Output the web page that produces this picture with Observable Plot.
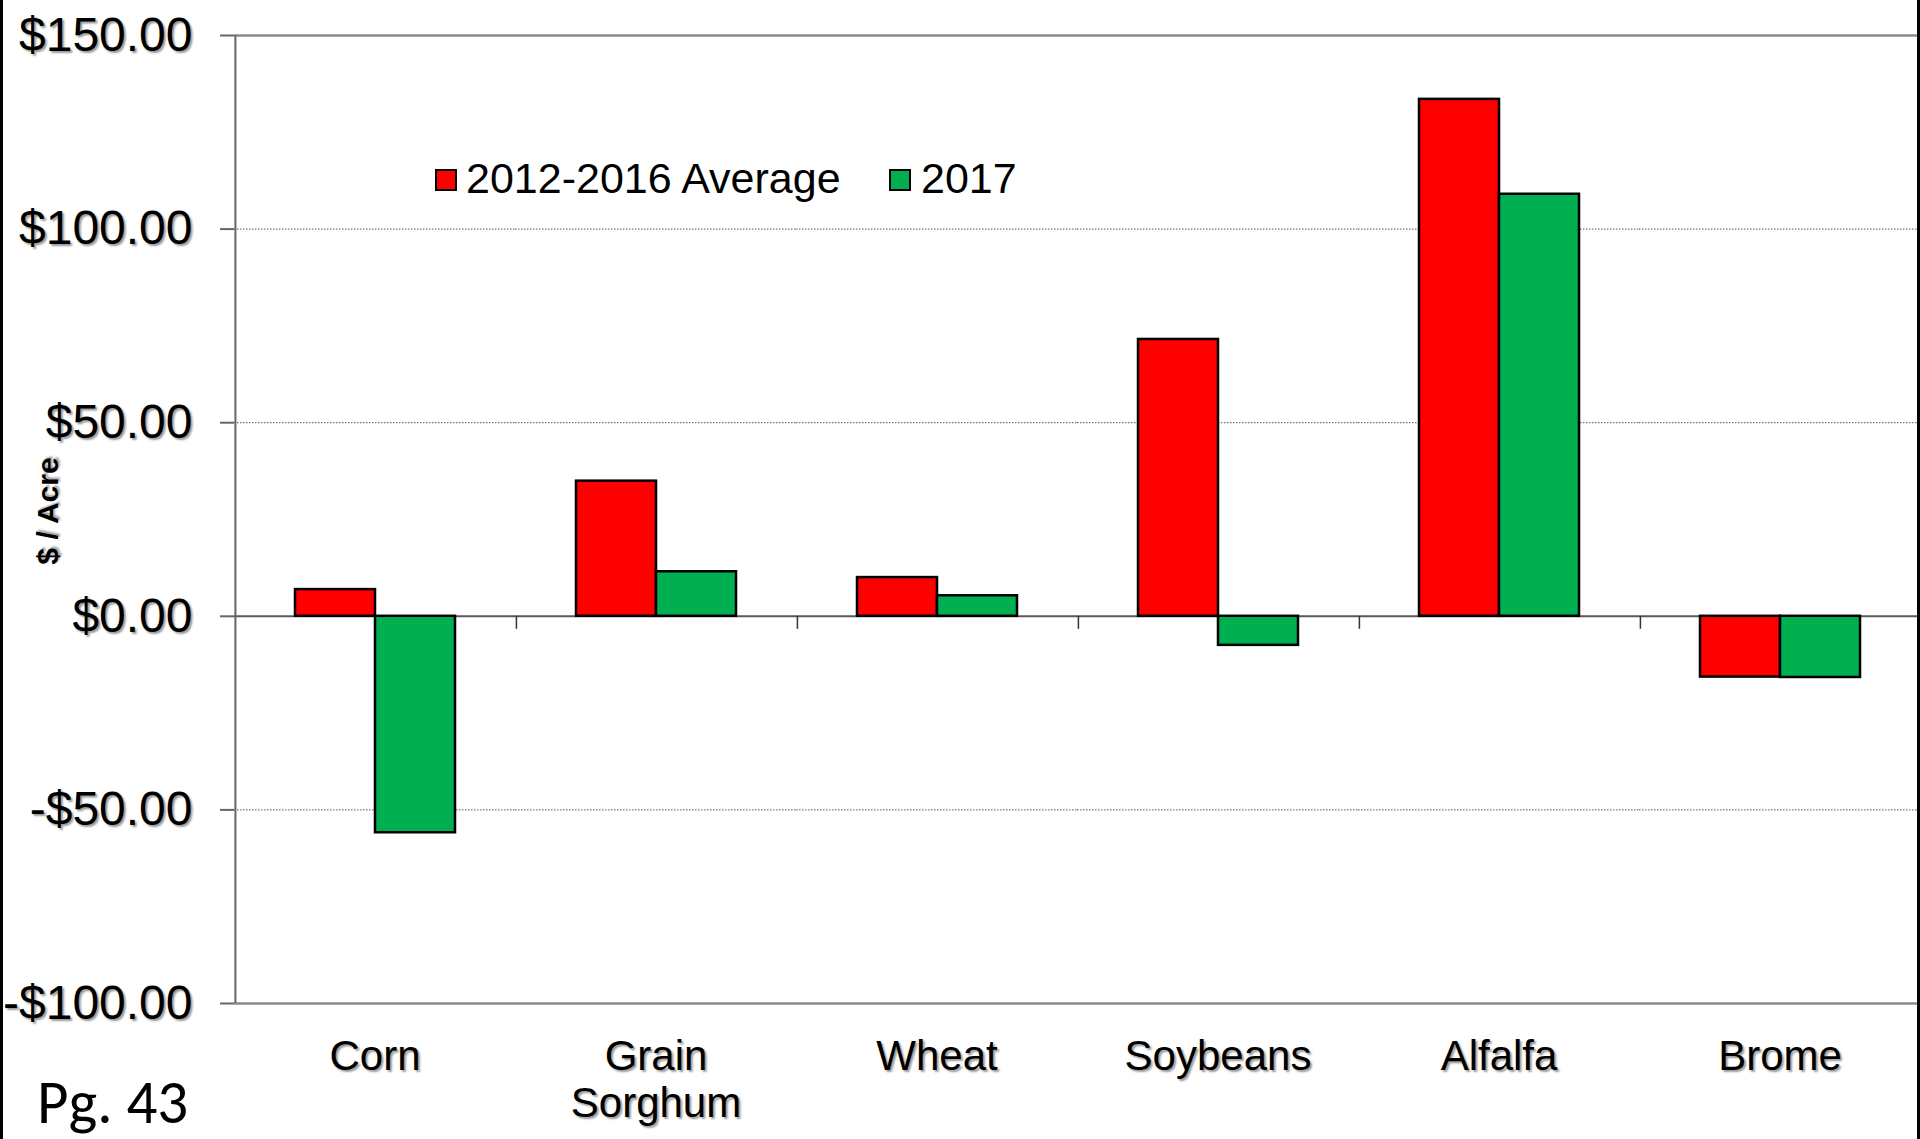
<!DOCTYPE html>
<html>
<head>
<meta charset="utf-8">
<script src="https://cdn.jsdelivr.net/npm/d3@7"></script>
<script src="https://cdn.jsdelivr.net/npm/@observablehq/plot@0.6"></script>
<style>
  html, body { margin: 0; padding: 0; background: #fff; }
  #wrap { position: relative; width: 1920px; height: 1139px; overflow: hidden; background: #fff;
          font-family: "Liberation Sans", Arial, sans-serif; }
  #chart svg { position: absolute; left: 0; top: 0; }
  #chart svg text { text-shadow: 2px 2px 2px rgba(0,0,0,0.4); }
  .border { position: absolute; top: 0; bottom: 0; width: 3px; background: #000; }
  #overlay { position: absolute; left: 0; top: 0; pointer-events: none; }
</style>
</head>
<body>
<div id="wrap">
  <div id="chart"></div>
  <svg id="overlay" width="1920" height="1139"></svg>
  <div class="border" style="left:0"></div>
  <div class="border" style="right:0"></div>
</div>
<script>
// ---- Data ----
const categories = ["Corn", "Grain Sorghum", "Wheat", "Soybeans", "Alfalfa", "Brome"];
const categoryLabels = ["Corn", "Grain\nSorghum", "Wheat", "Soybeans", "Alfalfa", "Brome"];
const seriesNames = ["2012-2016 Average", "2017"];
const avgValues = [6.9, 34.9, 10.0, 71.5, 133.5, -15.7];
const values2017 = [-55.9, 11.5, 5.3, -7.5, 109.0, -15.8];
const yTicks = [-100, -50, 0, 50, 100, 150];
const gridTicks = [100, 50, -50];
const seriesColors = ["#FF0000", "#00B050"];
const yTitle = "$ / Acre";
const pageNote = "Pg. 43";

const data = categories.flatMap((c, i) => [
  {category: c, series: seriesNames[0], value: avgValues[i]},
  {category: c, series: seriesNames[1], value: values2017[i]}
]);

const fmtMoney = v => (v < 0 ? "-" : "") + "$" + Math.abs(v).toFixed(2);

// ---- Layout ----
const W = 1920, H = 1139, mL = 233, mR = 0, mT = 35, mB = 136;
const po = 0.736;
const step = (W - mL - mR) / categories.length;
const bw = step / (2 + 2 * po);
const edgeDx = -(po * bw + bw / 2);

const plot = Plot.plot({
  width: W, height: H,
  marginLeft: mL, marginRight: mR, marginTop: mT, marginBottom: mB,
  style: {fontFamily: "'Liberation Sans', Arial, sans-serif", color: "#000", background: "transparent", overflow: "visible"},
  fx: {domain: categories, padding: 0, label: null, axis: null},
  x: {domain: seriesNames, paddingInner: 0, paddingOuter: po, axis: null},
  y: {domain: [yTicks[0], yTicks[yTicks.length - 1]], label: null, axis: null},
  color: {domain: seriesNames, range: seriesColors},
  marks: [
    Plot.ruleY(gridTicks, {stroke: "#555", strokeWidth: 1, strokeDasharray: "1.5,1.5"}),
    Plot.ruleY([yTicks[yTicks.length - 1], yTicks[0]], {stroke: "#8a8a8a", strokeWidth: 2.5}),
    Plot.ruleY([0], {stroke: "#5a5a5a", strokeWidth: 2}),
    // left axis line
    Plot.ruleX([categories[0]], {fx: d => d, x: () => seriesNames[0], dx: edgeDx,
      y1: yTicks[0], y2: yTicks[yTicks.length - 1], stroke: "#666", strokeWidth: 2}),
    // category separator ticks below zero line
    Plot.ruleX(categories.slice(1), {fx: d => d, x: () => seriesNames[0], dx: edgeDx,
      y1: 0, y2: 0, insetBottom: -13, stroke: "#333", strokeWidth: 1.5}),
    Plot.barY(data, {fx: "category", x: "series", y: "value", fill: "series", stroke: "#000", strokeWidth: 2.5}),
    Plot.axisY({ticks: yTicks, tickFormat: fmtMoney, tickSize: 14, tickPadding: 28,
      fontSize: 48, stroke: "#666", strokeWidth: 2, label: null}),
    Plot.axisFx({anchor: "bottom", tickSize: 0, tickPadding: 34, fontSize: 42, lineHeight: 1.1,
      tickFormat: c => categoryLabels[categories.indexOf(c)], label: null})
  ]
});
document.getElementById("chart").appendChild(plot);

// ---- Overlay: legend, y title, page note ----
const ov = d3.select("#overlay");
const legendItems = [
  {name: seriesNames[0], color: seriesColors[0], sx: 435, tx: 466},
  {name: seriesNames[1], color: seriesColors[1], sx: 889, tx: 921}
];
legendItems.forEach(it => {
  ov.append("rect").attr("x", it.sx + 1).attr("y", 170).attr("width", 20).attr("height", 20)
    .attr("fill", it.color).attr("stroke", "#000").attr("stroke-width", 2);
  ov.append("text").attr("x", it.tx).attr("y", 193)
    .attr("font-family", "'Liberation Sans', Arial, sans-serif").attr("font-size", 43)
    .attr("fill", "#000").text(it.name);
});
ov.append("text")
  .attr("transform", "translate(58,511) rotate(-90)")
  .attr("text-anchor", "middle")
  .attr("font-family", "'Liberation Sans', Arial, sans-serif")
  .attr("font-weight", "bold").attr("font-size", 30)
  .style("text-shadow", "2px 2px 2px rgba(0,0,0,0.35)")
  .attr("fill", "#000").text(yTitle);
ov.append("text").attr("x", 37).attr("y", 1123)
  .attr("font-family", "Carlito, Lato, 'Open Sans', sans-serif").attr("font-size", 61)
  .attr("fill", "#000").text(pageNote);
</script>
</body>
</html>
